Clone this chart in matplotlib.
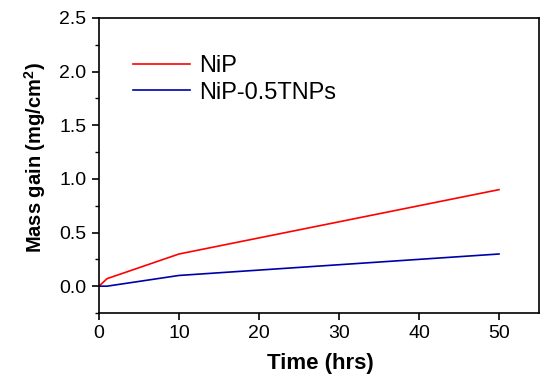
import matplotlib
matplotlib.use("Agg")
import matplotlib.pyplot as plt
from matplotlib.ticker import MultipleLocator, FormatStrFormatter

plt.rcParams['font.family'] = ['Liberation Sans', 'DejaVu Sans']
plt.rcParams['mathtext.fontset'] = 'custom'
plt.rcParams['mathtext.bf'] = 'Liberation Sans:bold'

time_hrs = [0, 1, 10, 50]
nip = [0.0, 0.07, 0.30, 0.90]
nip_tnps = [0.0, 0.0, 0.10, 0.30]

fig = plt.figure(figsize=(5.5, 3.81), dpi=100)
ax = fig.add_axes([99 / 550, 1 - 313 / 381, 440 / 550, 295 / 381])

ax.plot(time_hrs, nip, color='#ff0000', lw=1.2, label='NiP')
ax.plot(time_hrs, nip_tnps, color='#0000aa', lw=1.2, label='NiP-0.5TNPs')

ax.set_xlim(0, 55)
ax.set_ylim(-0.25, 2.5)
ax.set_xticks([0, 10, 20, 30, 40, 50])
ax.set_yticks([0.0, 0.5, 1.0, 1.5, 2.0, 2.5])
ax.yaxis.set_minor_locator(MultipleLocator(0.25))
ax.yaxis.set_major_formatter(FormatStrFormatter('%.1f'))
ax.tick_params(which='both', direction='out', top=False, right=False, labelsize=14)
ax.tick_params(which='major', length=5, width=1.2, pad=4)
ax.tick_params(which='minor', length=3, width=1)
for s in ax.spines.values():
    s.set_linewidth(1.2)

ax.set_xlabel('Time (hrs)', fontsize=16, fontweight='bold')
ax.set_ylabel('Mass gain (mg/cm$\\mathbf{^2}$)', fontsize=14.5, fontweight='bold')
ax.xaxis.set_label_coords(0.502, -0.136)
ax.yaxis.set_label_coords(-0.115, 0.527)

ax.legend(loc='upper left', bbox_to_anchor=(133 / 550, 1 - 55 / 381),
          bbox_transform=fig.transFigure, frameon=False, borderpad=0,
          borderaxespad=0, fontsize=17, handlelength=2.4, handletextpad=0.4,
          labelspacing=0.2)

fig.savefig('out.png', dpi=100)
